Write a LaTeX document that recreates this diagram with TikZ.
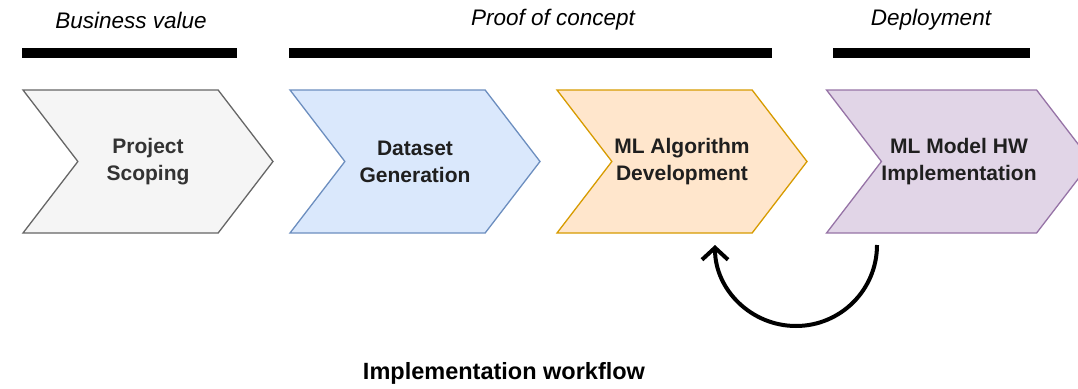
\documentclass[tikz,border=0pt]{standalone}
\usepackage{fontspec}
\setmainfont{Liberation Sans}
\usetikzlibrary{shapes.symbols,arrows.meta,calc}
\definecolor{scopefill}{HTML}{F5F5F5}
\definecolor{scopedraw}{HTML}{666666}
\definecolor{scopetext}{HTML}{333333}
\definecolor{datafill}{HTML}{DAE8FC}
\definecolor{datadraw}{HTML}{6C8EBF}
\definecolor{algfill}{HTML}{FFE6CC}
\definecolor{algdraw}{HTML}{D79B00}
\definecolor{hwfill}{HTML}{E1D5E7}
\definecolor{hwdraw}{HTML}{9673A6}
\tikzset{
chevron/.style={
  signal,
  signal from=west,
  signal to=east,
  signal pointer angle=105,
  minimum width=250pt,
  minimum height=143pt,
  inner sep=0pt,
  align=center,
  line width=1.3pt,
  text=black!88,
  font=\fontsize{21}{27}\selectfont\bfseries
  },
phasebar/.style={fill=black, inner sep=0pt, minimum height=10pt},
phase/.style={font=\fontsize{22.5}{27}\selectfont\itshape}
}

\begin{document}
\begin{tikzpicture}[x=1pt,y=1pt,yscale=-1,xscale=1]
\useasboundingbox (0,0) rectangle (1078,388);

% phases
\node[phase] (lblbiz) at (131,20) {Business value};
\node[phase] (lblpoc) at (553,20) {Proof of concept};
\node[phase] (lbldep) at (931,20) {Deployment};
\node[phasebar, minimum width=215pt] (barbiz) at (129.5,53) {};
\node[phasebar, minimum width=483pt] (barpoc) at (530.5,53) {};
\node[phasebar, minimum width=197pt] (bardep) at (931.5,53) {};

% steps
\node[chevron, draw=scopedraw, fill=scopefill, text=scopetext] (scope) at (148,161.5) {Project\\Scoping};
\node[chevron, draw=datadraw, fill=datafill] (data) at (415,161.5) {Dataset\\Generation};
\node[chevron, draw=algdraw, fill=algfill] (mlalg) at (682,161.5) {ML Algorithm\\Development};
\node[chevron, draw=hwdraw, fill=hwfill] (hw) at (959,161.5) {ML Model HW\\Implementation};

% feedback loop
\coordinate (loopstart) at ($(hw.center)+(-82,83.5)$);
\draw[line width=4pt, -{Straight Barb[length=12pt, width=26pt]}] (loopstart) arc[start angle=0, end angle=180, radius=81];

\node[font=\fontsize{23.5}{28}\selectfont\bfseries] (caption) at (504,373) {Implementation workflow};

\end{tikzpicture}
\end{document}
